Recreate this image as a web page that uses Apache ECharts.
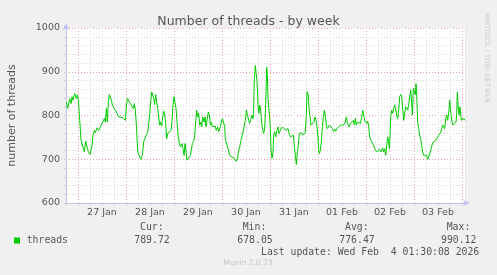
<!DOCTYPE html>
<html>
<head>
<meta charset="utf-8">
<script src="https://cdn.jsdelivr.net/npm/echarts@6/dist/echarts.min.js"></script>
<style>
html,body{margin:0;padding:0;background:#f0f0f0;}
#chart{width:497px;height:275px;}
</style>
</head>
<body>
<div id="chart"></div>
<script>
// hours since 27 Jan 00:00
var hours = [-5.8,-5.15,-4.15,-3.48,-2.98,-2.48,-1.65,-1.15,-0.82,-0.32,0.18,0.68,1.52,2.52,3.18,3.85,4.52,5.18,6.02,6.52,7.02,7.52,8.18,8.68,9.52,10.35,11.18,12.02,12.52,13.18,13.68,14.18,14.68,15.18,15.68,16.18,16.68,17.18,17.85,18.68,19.52,20.35,21.18,22.18,23.18,23.68,24.18,24.68,25.35,26.18,27.02,27.68,28.18,28.68,29.18,29.85,30.85,31.52,32.18,
32.85,33.68,34.18,34.85,35.35,35.85,36.35,36.85,37.35,37.85,38.35,38.85,39.35,39.85,40.35,40.85,41.35,41.85,42.35,42.85,43.35,43.85,44.35,44.85,45.35,45.85,46.52,47.02,47.52,48.02,48.52,49.02,49.52,50.02,50.68,51.18,52.02,52.52,53.02,53.52,54.02,54.52,55.02,55.52,56.18,56.68,57.18,57.85,58.35,58.85,59.35,59.85,60.35,60.85,61.35,61.85,62.35,63.02,63.52,64.02,64.52,65.18,65.68,66.18,66.68,67.18,67.85,68.52,69.18,69.85,70.35,71.18,71.68,72.18,72.85,73.35,
73.68,74.52,75.18,75.85,76.52,77.02,77.52,78.18,78.68,79.18,79.85,80.35,80.85,81.52,82.02,82.52,83.18,83.68,84.18,84.85,85.35,85.85,86.52,87.02,87.52,87.85,88.18,88.68,89.18,89.52,90.02,90.52,90.85,91.35,91.85,92.52,92.85,93.35,93.85,94.35,94.68,95.02,95.52,95.85,96.18,96.52,97.02,97.52,97.85,98.35,98.85,99.52,100.02,100.52,101.18,101.68,102.18,102.85,103.35,103.85,104.52,105.02,105.52,106.18,106.68,107.18,107.68,108.18,108.68,109.18,109.68,110.18,110.68,111.18,111.85,112.52,
112.85,113.68,114.18,114.52,114.85,115.18,115.52,116.02,116.52,117.02,117.52,118.02,118.52,119.02,119.52,120.02,120.35,120.68,121.18,121.68,122.18,122.68,123.18,123.68,124.18,124.68,125.18,125.68,126.18,126.68,127.18,127.85,128.35,128.85,129.52,130.02,130.52,131.18,131.68,132.18,132.68,133.18,133.68,134.18,134.68,135.18,135.68,136.18,136.68,137.18,137.68,138.18,138.68,139.18,139.68,140.18,140.68,141.18,141.85,142.35,142.85,143.35,143.85,144.35,144.85,145.35,145.85,146.35,146.85,147.35,147.85,148.35,148.85,149.35,149.85,150.35,150.85,151.35,151.85,152.35,
152.85,153.35,153.85,154.35,154.85,155.35,155.68,156.02,156.35,156.85,157.35,157.85,158.35,158.85,159.35,159.85,160.35,160.85,161.35,161.85,162.35,162.85,163.35,163.85,164.35,164.85,165.35,165.85,166.35,166.85,167.18,167.68,168.18,168.68,169.02,169.35,169.85,170.35,170.85,171.35,171.85,172.35,172.85,173.35,173.85,174.35,174.85,175.35,175.85,176.35,176.85,177.35,177.85,178.35,178.85,179.35,179.85,180.35,180.85,181.35,181.85,182.35,182.85,183.35,183.85,184.35,184.85,185.35,185.85,186.18,186.52,187.02,187.52,188.02,188.52,189.02,189.35,189.68,190.02,190.52,191.02,191.35,191.68,192.18,192.68,193.02,193.35];

var threads = [831,816,839,827,843,835,850,847,839,847,835,801,744,740,717,741,738,717,711,708,732,755,766,761,772,766,774,782,778,793,785,816,785,831,848,847,835,824,820,812,805,797,798,795,793,789,820,839,835,827,831,816,827,812,778,717,705,700,709,
741,743,755,761,759,801,831,854,856,839,825,848,831,816,797,778,785,776,797,810,801,782,747,759,755,761,766,789,824,843,847,816,785,755,736,728,736,724,709,736,732,698,695,698,709,721,736,741,755,785,812,797,805,778,785,774,797,785,797,774,789,808,801,778,785,774,778,776,766,774,763,774,785,793,797,775,
745,732,721,709,712,705,709,702,705,695,705,721,728,743,755,763,766,789,812,808,789,782,793,801,793,816,885,914,912,877,824,805,824,812,782,764,759,770,827,911,892,839,835,793,770,721,702,717,755,763,751,766,774,759,766,772,774,772,774,766,763,770,761,751,755,749,755,728,709,688,717,732,759,755,761,755,
759,761,805,854,858,847,816,797,778,782,774,785,797,789,774,751,721,713,721,740,774,797,812,797,778,770,774,778,774,776,770,764,769,764,770,774,772,778,774,782,778,780,785,797,782,778,774,782,778,785,789,778,793,778,785,789,785,782,797,812,801,787,789,782,787,774,751,744,744,741,732,724,721,717,719,721,723,717,721,726,
717,724,709,732,751,740,724,755,797,812,805,816,824,820,801,793,812,843,848,843,839,789,785,820,824,812,825,824,858,827,801,862,854,848,873,847,785,770,755,747,732,717,709,705,711,709,700,705,709,721,724,738,736,740,743,747,741,755,759,761,770,778,774,770,793,801,789,805,835,839,801,785,778,778,782,785,805,854,824,801,820,816,789,785,789,793,789];

var dayLabels = ['27 Jan','28 Jan','29 Jan','30 Jan','31 Jan','01 Feb','02 Feb','03 Feb'];
var yTicks = [600,700,800,900,1000];
var legendName = 'threads';
var stats = {cur:'789.72', min:'678.05', avg:'776.47', max:'990.12'};

var seriesData = hours.map(function(h,i){return [h, threads[i]];});

var chart = echarts.init(document.getElementById('chart'), null, {renderer:'canvas'});
var gray = '#d6d6d6', red = '#e9a3a3', axisCol = '#c3c3f0';
var mono = '9.8px "DejaVu Sans Mono"';
var txtCol = '#555';

function t(x,y,text,align,font,fill){
  return {type:'text', silent:true, style:{x:x,y:y,text:text,align:align||'left',verticalAlign:'middle',font:font||mono,fill:fill||txtCol}};
}

chart.setOption({
  backgroundColor:'#f0f0f0',
  animation:false,
  title:{text:'Number of threads - by week', left:'center', top:10,
    textStyle:{fontFamily:'DejaVu Sans', fontSize:12.5, fontWeight:'normal', color:'#555'}},
  grid:{left:66, top:28, width:399, height:175, show:true, backgroundColor:'#ffffff', borderWidth:0, containLabel:false, outerBoundsMode:'none'},
  xAxis:{type:'value', min:-6, max:193.5, interval:6,
    axisLine:{show:true, onZero:false, lineStyle:{color:axisCol, width:1}, symbol:['none','arrow'], symbolSize:[5,7], symbolOffset:[0,5]},
    axisTick:{show:true, length:2, lineStyle:{color:'#ccc'}},
    axisLabel:{margin:5, fontFamily:'DejaVu Sans', fontSize:9.5, color:txtCol, showMinLabel:true, showMaxLabel:true,
      formatter:function(v){ var k=(v-12)/24; return (k>=0 && Math.abs(k-Math.round(k))<1e-6 && dayLabels[Math.round(k)]) ? dayLabels[Math.round(k)] : ''; }},
    splitLine:{show:true, lineStyle:{color:[gray,red,gray,gray], type:[1,2], width:1}}
  },
  yAxis:{type:'value', min:600, max:1000, interval:20,
    name:'number of threads', nameLocation:'middle', nameGap:48, nameRotate:90,
    nameTextStyle:{fontFamily:'DejaVu Sans', fontSize:11, color:txtCol},
    axisLine:{show:true, onZero:false, lineStyle:{color:axisCol, width:1}, symbol:['none','arrow'], symbolSize:[5,7], symbolOffset:[0,5]},
    axisTick:{show:true, length:2, lineStyle:{color:'#ccc'}},
    axisLabel:{margin:6, fontFamily:'DejaVu Sans', fontSize:9.5, color:txtCol,
      formatter:function(v){ return yTicks.indexOf(v)>=0 ? String(v) : ''; }},
    splitLine:{show:true, lineStyle:{color:[red,gray,gray,gray,gray], type:[1,2], width:1}}
  },
  series:[{type:'line', name:legendName, data:seriesData, showSymbol:false, symbol:'none',
    lineStyle:{color:'#00cc00', width:1}, z:5}],
  graphic:[
    {type:'rect', silent:true, shape:{x:14,y:237.5,width:6,height:6}, style:{fill:'#00cc00'}},
    t(26.7,240.5,legendName),
    t(140,227.5,'Cur:'), t(134.3,240.5,stats.cur),
    t(242.7,227.5,'Min:'), t(237.3,240.5,stats.min),
    t(345,227.5,'Avg:'), t(339.3,240.5,stats.avg),
    t(446.7,227.5,'Max:'), t(441,240.5,stats.max),
    t(261,252,'Last update: Wed Feb  4 01:30:08 2026'),
    t(248,263.5,'Munin 2.0.73','center','7.5px "DejaVu Sans"','#c4c4c4'),
    {type:'text', silent:true, x:487, y:58, rotation:-Math.PI/2,
      style:{x:0,y:0,text:'RRDTOOL / TOBI OETIKER',align:'center',verticalAlign:'middle',font:'7px "DejaVu Sans"',fill:'#cccccc'}}
  ]
});
</script>
</body>
</html>
